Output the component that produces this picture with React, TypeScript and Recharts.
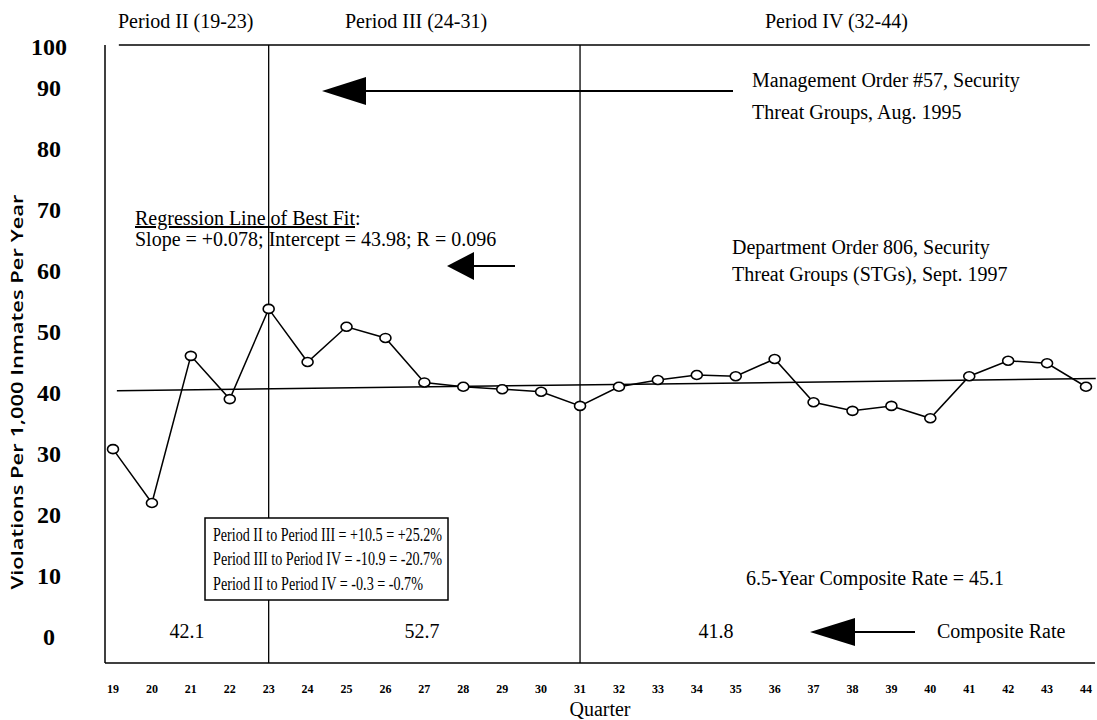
import React from 'react'
import { LineChart, Line, XAxis, YAxis, ReferenceLine } from 'recharts'

const QUARTERS = [19, 20, 21, 22, 23, 24, 25, 26, 27, 28, 29, 30, 31, 32, 33, 34, 35, 36, 37, 38, 39, 40, 41, 42, 43, 44]
const RATES = [34.6, 25.9, 49.7, 42.7, 57.3, 48.7, 54.4, 52.6, 45.4, 44.7, 44.3, 43.9, 41.6, 44.7, 45.8, 46.6, 46.4, 49.2, 42.2, 40.8, 41.6, 39.6, 46.4, 48.9, 48.5, 44.7]
const Y_TICKS = [0, 10, 20, 30, 40, 50, 60, 70, 80, 90, 100]
const PERIOD_BREAKS = [23, 31]
const SLOPE = 0.078
const INTERCEPT = 43.98

const data = QUARTERS.map((q, i) => ({ q, rate: RATES[i] }))

// regression counts quarters from 1 (q19 = 1)
const regAt = (q: number) => INTERCEPT + SLOPE * (q - 18)

const SERIF = '"Liberation Serif", "Times New Roman", serif'

const OpenDot = (props: any) => {
  const { cx, cy } = props
  if (cx == null || cy == null) return null
  return <ellipse cx={cx} cy={cy} rx={5.5} ry={4.5} fill="#fff" stroke="#000" strokeWidth={1.6} />
}

// the scanned axis labels sit a little above their gridline values
const YTick = (props: any) => {
  const { x, y, payload } = props
  const v = payload.value
  const dy = v === 100 ? 2 : -(18 + (100 - v) * 0.08)
  return (
    <text x={x - 48} y={y + dy} dy={8} textAnchor="middle" fontFamily={SERIF} fontWeight="bold" fontSize={24} fill="#000">
      {v}
    </text>
  )
}

const XTick = (props: any) => {
  const { x, y, payload } = props
  return (
    <text x={x} y={y + 22} textAnchor="middle" fontFamily={SERIF} fontWeight="bold" fontSize={12} fill="#000">
      {payload.value}
    </text>
  )
}

const Arrow = ({ tip, y, head, len }: { tip: number; y: number; head: number; len: number }) => (
  <g>
    <polygon points={`${tip},${y} ${tip + head},${y - 14} ${tip + head},${y + 14}`} fill="#000" />
    <line x1={tip + head - 4} y1={y} x2={tip + len} y2={y} stroke="#000" strokeWidth={2} />
  </g>
)

function Notes() {
  const t = { fontFamily: SERIF, fontSize: 20, fill: '#000' }
  const b = { fontFamily: SERIF, fontSize: 19, fill: '#000', lengthAdjust: 'spacingAndGlyphs' as const }
  return (
    <svg width={1097} height={720} style={{ position: 'absolute', left: 0, top: 0, pointerEvents: 'none' }}>
      <text x={118} y={28} {...t}>Period II (19-23)</text>
      <text x={345} y={28} {...t}>Period III (24-31)</text>
      <text x={765} y={28} {...t}>Period IV (32-44)</text>

      <text
        transform="translate(23,392) rotate(-90)"
        textAnchor="middle"
        fontFamily='"Open Sans", sans-serif'
        fontWeight={600}
        fontSize={16}
        textLength={395}
        lengthAdjust="spacingAndGlyphs"
      >
        Violations Per 1,000 Inmates Per Year
      </text>

      <Arrow tip={322} y={91} head={44} len={411} />
      <text x={752} y={87} {...t}>Management Order #57, Security</text>
      <text x={752} y={119} {...t}>Threat Groups, Aug. 1995</text>

      <text x={135} y={225} {...t}>
        <tspan textDecoration="underline">Regression Line of Best Fit</tspan>:
      </text>
      <text x={135} y={246} {...t}>Slope = +0.078; Intercept = 43.98; R = 0.096</text>

      <Arrow tip={447} y={266} head={27} len={68} />
      <text x={732} y={254} {...t}>Department Order 806, Security</text>
      <text x={732} y={281} {...t}>Threat Groups (STGs), Sept. 1997</text>

      <rect x={205} y={518} width={243} height={82} fill="#fff" stroke="#000" strokeWidth={1.5} />
      <text x={213} y={541} textLength={229} {...b}>Period II to Period III = +10.5 = +25.2%</text>
      <text x={213} y={565} textLength={229} {...b}>Period III to Period IV = -10.9 = -20.7%</text>
      <text x={213} y={590} textLength={210} {...b}>Period II to Period IV = -0.3 = -0.7%</text>

      <text x={746} y={585} {...t}>6.5-Year Composite Rate = 45.1</text>

      <text x={187} y={638} textAnchor="middle" {...t}>42.1</text>
      <text x={422} y={638} textAnchor="middle" {...t}>52.7</text>
      <text x={716} y={638} textAnchor="middle" {...t}>41.8</text>
      <Arrow tip={810} y={632} head={45} len={105} />
      <text x={937} y={638} {...t}>Composite Rate</text>

      <text x={600} y={716} textAnchor="middle" fontFamily={SERIF} fontSize={20}>Quarter</text>
    </svg>
  )
}

export default function App() {
  return (
    <div style={{ position: 'absolute', left: 0, top: 0, width: 1097, height: 720, background: '#fff' }}>
      <LineChart width={1097} height={720} data={data} margin={{ top: 45, right: 2, bottom: 27, left: 45 }}>
        <XAxis
          dataKey="q"
          type="number"
          domain={[19, 44]}
          ticks={QUARTERS}
          padding={{ left: 8, right: 9 }}
          tickLine={false}
          tick={<XTick />}
          height={30}
          axisLine={{ stroke: '#000', strokeWidth: 1.5 }}
        />
        <YAxis
          domain={[0, 100]}
          ticks={Y_TICKS}
          width={60}
          tickLine={false}
          tick={<YTick />}
          axisLine={{ stroke: '#000', strokeWidth: 1.5 }}
        />
        <ReferenceLine
          segment={[{ x: 19.15, y: 100 }, { x: 44.1, y: 100 }]}
          ifOverflow="visible"
          stroke="#000"
          strokeWidth={1.5}
        />
        {PERIOD_BREAKS.map((q) => (
          <ReferenceLine key={q} x={q} stroke="#000" strokeWidth={1.3} />
        ))}
        <ReferenceLine
          segment={[{ x: 19.1, y: regAt(19.1) }, { x: 44.25, y: regAt(44.25) }]}
          ifOverflow="visible"
          stroke="#000"
          strokeWidth={1.5}
        />
        <Line
          dataKey="rate"
          stroke="#000"
          strokeWidth={1.5}
          dot={<OpenDot />}
          isAnimationActive={false}
        />
      </LineChart>
      <Notes />
    </div>
  )
}
